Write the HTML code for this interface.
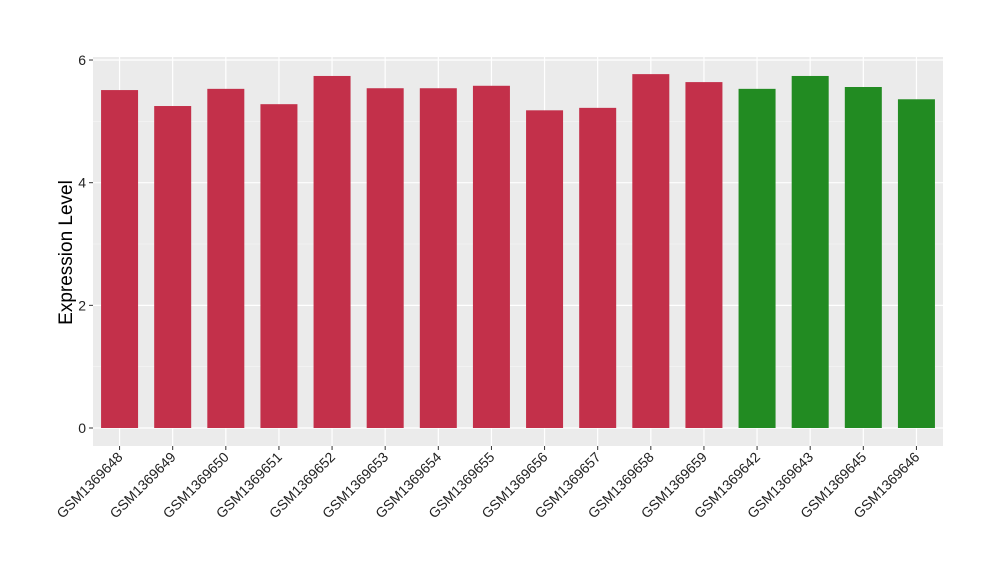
<!DOCTYPE html>
<html><head><meta charset="utf-8"><style>
body{margin:0;background:#fff;}
svg text{font-family:"Liberation Sans",sans-serif;}
</style></head><body>
<svg width="1000" height="580" xmlns="http://www.w3.org/2000/svg">
<g id="plot"></g>
</svg>
<script>
const categories=["GSM1369648","GSM1369649","GSM1369650","GSM1369651","GSM1369652","GSM1369653","GSM1369654","GSM1369655","GSM1369656","GSM1369657","GSM1369658","GSM1369659","GSM1369642","GSM1369643","GSM1369645","GSM1369646"];
const values=[5.51,5.25,5.53,5.28,5.74,5.54,5.54,5.58,5.18,5.22,5.77,5.64,5.53,5.74,5.56,5.36];
const groups=["a","a","a","a","a","a","a","a","a","a","a","a","b","b","b","b"];
const yTicks=[0,2,4,6];
const colors={a:"#C3304A",b:"#228B22"};
const L=93,R=943,T=57,B=446;
const y0=428,pxPer=61.33;
const ys=v=>y0-v*pxPer;
const step=(R-L)/categories.length;
const xs=i=>L+step*(i+0.5);
const bw=37;
const NS="http://www.w3.org/2000/svg";
const g=document.getElementById('plot');
function mk(t,a){const e=document.createElementNS(NS,t);for(const k in a)e.setAttribute(k,a[k]);g.appendChild(e);return e;}
const bg=mk('rect',{x:L,y:T,width:R-L,height:B-T,fill:'#EBEBEB'});


for(let v=1;v<=7;v+=2){const yy=ys(v);if(yy>T)mk('line',{x1:L,x2:R,y1:yy,y2:yy,stroke:'#F5F5F5','stroke-width':0.6});}
yTicks.forEach(v=>{const yy=ys(v);
mk('line',{x1:L,x2:R,y1:yy,y2:yy,stroke:'#fff','stroke-width':1.2});
mk('line',{x1:L-4,x2:L,y1:yy,y2:yy,stroke:'#333','stroke-width':1});
const t=mk('text',{x:L-7,y:yy+5,'text-anchor':'end','font-size':14,fill:'#222'});t.textContent=v;

});
categories.forEach((c,i)=>{const x=xs(i);
mk('line',{x1:x,x2:x,y1:T,y2:B,stroke:'#fff','stroke-width':1.2});});
categories.forEach((c,i)=>{const x=xs(i);
const r=mk('rect',{x:x-bw/2,y:ys(values[i]),width:bw,height:ys(0)-ys(values[i]),fill:colors[groups[i]]});


mk('line',{x1:x,x2:x,y1:B,y2:B+4,stroke:'#333','stroke-width':1});
const t=mk('text',{x:0,y:0,'text-anchor':'end','font-size':14,fill:'#222',transform:`translate(${x+4},${B+12}) rotate(-45)`});t.textContent=c;

});
const yt=mk('text',{x:0,y:0,'text-anchor':'middle','font-size':19,fill:'#000',transform:`translate(72,${(T+B)/2+1}) rotate(-90)`});yt.textContent='Expression Level';


</script>
</body></html>
